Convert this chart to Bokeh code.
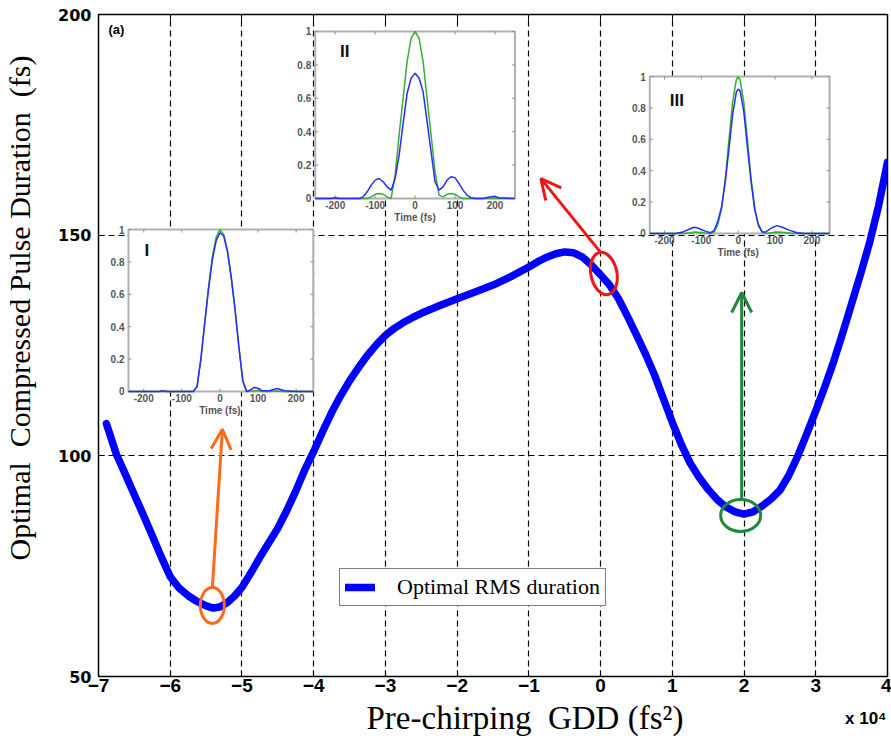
import math
from bokeh.plotting import figure
from bokeh.layouts import column
from bokeh.models import (Range1d, FixedTicker, LinearAxis, Legend, LegendItem,
                          Arrow, OpenHead, Label)
from bokeh.core.properties import value
from bokeh.embed import file_html
from bokeh.resources import INLINE

# ---------------- main curve (GDD in units of 1e4 fs^2, duration in fs) -------------
gdd = [-6.89, -6.75, -6.625, -6.5, -6.375, -6.25, -6.125, -6.0, -5.875, -5.75, -5.625,
       -5.5, -5.4, -5.3, -5.2, -5.1, -5.0, -4.875, -4.75, -4.625, -4.5, -4.375, -4.25,
       -4.125, -4.0, -3.875, -3.75, -3.625, -3.5, -3.375, -3.25, -3.125, -3.0, -2.875,
       -2.75, -2.625, -2.5, -2.25, -2.0, -1.75, -1.5, -1.25, -1.0, -0.875, -0.75, -0.625,
       -0.5, -0.375, -0.25, -0.125, 0.0, 0.125, 0.25, 0.375, 0.5, 0.625, 0.75, 0.875, 1.0,
       1.125, 1.25, 1.375, 1.5, 1.625, 1.75, 1.875, 2.0, 2.125, 2.25, 2.375, 2.5, 2.625,
       2.75, 2.875, 3.0, 3.125, 3.25, 3.375, 3.5, 3.625, 3.75, 3.875, 4.0]
duration = [107.3, 100.3, 95.8, 91.2, 86.6, 81.9, 77.1, 72.6, 70.0, 68.3, 67.0,
            66.0, 65.5, 65.8, 66.8, 68.3, 70.2, 73.5, 77.0, 80.3, 83.6, 87.6, 92.0,
            96.8, 101.0, 105.5, 109.8, 113.6, 117.0, 120.0, 122.8, 125.2, 127.3, 128.9,
            130.2, 131.3, 132.3, 134.0, 135.6, 137.1, 138.7, 140.6, 142.8, 144.0, 145.0, 145.8,
            146.2, 146.0, 145.0, 143.2, 141.0, 138.7, 135.6, 131.6, 127.4, 123.1, 118.4, 113.0,
            107.6, 102.6, 98.3, 95.1, 92.4, 90.1, 88.4, 87.3, 86.8, 87.3, 88.6, 90.2, 92.2, 95.6,
            100.0, 105.0, 110.2, 115.6, 121.4, 127.8, 134.5, 141.2, 148.3, 156.6, 166.5]

x_ticks = [-7, -6, -5, -4, -3, -2, -1, 0, 1, 2, 3, 4]
y_ticks = [50, 100, 150, 200]
legend_label = "Optimal RMS duration"
y_title = "Optimal \u00a0Compressed Pulse Duration \u00a0(fs)"
x_title = "Pre-chirping \u00a0GDD (fs\u00b2)"
x_multiplier = "x 10\u2074"

# ---------------- inset pulses (time in fs, normalised intensity) -------------------
t1 = [-240, -200, -160, -150, -140, -100, -70, -60, -50, -40, -30, -20, -10, 0, 10, 20, 30,
      40, 50, 60, 70, 80, 90, 100, 110, 130, 150, 170, 200, 245]
blue1 = [0, 0, 0, 0.004, 0, 0, 0, 0.03, 0.2, 0.42, 0.63, 0.81, 0.93, 0.98, 0.96, 0.86, 0.7,
         0.5, 0.27, 0.07, 0.0, 0.01, 0.025, 0.02, 0.005, 0.005, 0.018, 0.005, 0, 0]
green1 = [0, 0, 0, 0, 0, 0, 0, 0.03, 0.2, 0.42, 0.64, 0.83, 0.95, 1.0, 0.97, 0.87, 0.7,
          0.5, 0.27, 0.06, 0, 0.003, 0.005, 0.005, 0, 0, 0.003, 0, 0, 0]

t2 = [-250, -210, -200, -190, -170, -140, -130, -120, -110, -100, -90, -80, -70, -60, -50,
      -40, -30, -20, -10, 0, 10, 20, 30, 40, 50, 60, 70, 80, 90, 100, 110, 120, 130, 140,
      150, 170, 190, 200, 210, 250]
blue2 = [0, 0, 0.006, 0, 0, 0, 0.01, 0.04, 0.08, 0.11, 0.12, 0.1, 0.07, 0.05, 0.12,
         0.26, 0.45, 0.63, 0.72, 0.75, 0.72, 0.64, 0.46, 0.28, 0.1, 0.05, 0.07, 0.11, 0.13, 0.125,
         0.09, 0.05, 0.02, 0.005, 0, 0, 0.01, 0.012, 0.005, 0]
green2 = [0, 0, 0, 0, 0, 0, 0, 0, 0.01, 0.025, 0.03, 0.025, 0.01, 0.0, 0.14,
          0.38, 0.6, 0.82, 0.96, 1.0, 0.96, 0.82, 0.6, 0.38, 0.16, 0.02, 0.01, 0.025, 0.03, 0.025,
          0.01, 0, 0, 0, 0, 0, 0, 0, 0, 0]

t3 = [-240, -170, -150, -130, -120, -110, -90, -75, -65, -55, -45, -35, -25, -15, -5, 0, 5,
      15, 25, 35, 45, 55, 65, 75, 90, 105, 120, 140, 160, 180, 248]
blue3 = [0, 0, 0.01, 0.03, 0.04, 0.035, 0.015, 0.005, 0.02, 0.08, 0.17, 0.33, 0.54, 0.76,
         0.9, 0.92, 0.91, 0.78, 0.55, 0.33, 0.15, 0.05, 0.01, 0.01, 0.035, 0.05, 0.04, 0.02,
         0.005, 0, 0]
green3 = [0, 0, 0, 0.005, 0.01, 0.008, 0.003, 0, 0.01, 0.06, 0.16, 0.35, 0.6, 0.84, 0.98,
          1.0, 0.98, 0.84, 0.6, 0.35, 0.16, 0.06, 0.01, 0, 0.005, 0.01, 0.008, 0.003, 0, 0, 0]

inset_time_ticks = [-200, -100, 0, 100, 200]
inset_y_ticks = [0, 0.2, 0.4, 0.6, 0.8, 1.0]
inset_y_labels = ["0", "0.2", "0.4", "0.6", "0.8", "1"]
inset_names = ["I", "II", "III"]

# ---------------- annotations (main data coordinates) ----------------------------------
ellipse_x = [-5.413, 0.046, 1.953]
ellipse_y = [66.1, 141.3, 86.5]
ellipse_w = [24, 26, 40]
ellipse_h = [36, 43, 32]
ellipse_angle = [0.0, 0.2, 0.0]
marker_colors = ["#ff6a1a", "#f01414", "#21873b"]
arrow_x0 = [-5.413, 0.0, 1.967]
arrow_y0 = [70.0, 146.1, 90.3]
arrow_x1 = [-5.273, -0.832, 1.967]
arrow_y1 = [106.0, 162.8, 137.0]

# ---------------- layout ------------------------------------------------------------------
FRAME_W, FRAME_H = 790, 662
X0, X1, Y0, Y1 = -7, 4, 50, 200
PX_X = FRAME_W / (X1 - X0)
PX_Y = FRAME_H / (Y1 - Y0)

fig = figure(width=891, height=700, x_range=Range1d(X0, X1), y_range=Range1d(Y0, Y1),
             output_backend="svg", toolbar_location=None,
             min_border_left=97, min_border_right=4, min_border_top=14, min_border_bottom=24)
fig.background_fill_color = "white"
fig.border_fill_color = "white"
fig.outline_line_color = "black"
fig.outline_line_width = 1.5

xt = FixedTicker(ticks=x_ticks)
yt = FixedTicker(ticks=y_ticks)
fig.xaxis.ticker = xt
fig.yaxis.ticker = yt
for ax in (fig.xaxis[0], fig.yaxis[0]):
    ax.major_tick_in = 6
    ax.major_tick_out = 0
    ax.minor_tick_line_color = None
    ax.axis_line_color = "black"
    ax.major_tick_line_color = "black"
    ax.major_label_text_color = "black"
    ax.major_label_text_font_style = "bold"
fig.xaxis.major_label_text_font = "Liberation Sans"
fig.xaxis.major_label_text_font_size = "19px"
fig.xaxis.major_label_standoff = 2
fig.yaxis.major_label_text_font = "DejaVu Sans"
fig.yaxis.major_label_text_font_size = "16px"
fig.yaxis.major_label_standoff = 7
# y title: leading no-break spaces move it up as in the reference
fig.yaxis.axis_label = "\u00a0" * 10 + y_title
fig.yaxis.axis_label_text_font = "Liberation Serif"
fig.yaxis.axis_label_text_font_size = "30px"
fig.yaxis.axis_label_text_font_style = "normal"
fig.yaxis.axis_label_text_color = "black"
fig.yaxis.axis_label_standoff = 19

# tick-only axes on top and right (MATLAB box)
top_ax = LinearAxis(ticker=FixedTicker(ticks=x_ticks), major_tick_in=6, major_tick_out=0,
                    minor_tick_line_color=None, major_label_text_font_size="0px",
                    major_label_standoff=0, major_label_overrides={t: "" for t in x_ticks})
right_ax = LinearAxis(ticker=FixedTicker(ticks=y_ticks), major_tick_in=6, major_tick_out=0,
                      minor_tick_line_color=None, major_label_text_font_size="0px",
                      major_label_standoff=0, major_label_overrides={t: "" for t in y_ticks})
fig.add_layout(top_ax, "above")
fig.add_layout(right_ax, "right")

for g, tk in ((fig.xgrid[0], xt), (fig.ygrid[0], yt)):
    g.ticker = tk
    g.grid_line_color = "black"
    g.grid_line_dash = "6 4"
    g.grid_line_width = 1.2

main_line = fig.line(gdd, duration, line_color="#0000ff", line_width=7.5, line_join="round",
                     line_cap="round")

# ---------------- insets -----------------------------------------------------------
inset_boxes = [(-6.582, -4.006, 114.58, 151.28),
               (-3.978, -1.194, 158.31, 196.15),
               (0.686, 3.192, 150.38, 185.95)]
inset_trange = [(-240, 245), (-250, 250), (-240, 248)]
inset_name_pos = [(-198, 0.93), (-188, 0.94), (-186, 0.91)]
inset_data = [(t1, blue1, green1), (t2, blue2, green2), (t3, blue3, green3)]

lab_font = value("Liberation Sans")
gray = "#555555"
for (bx0, bx1, by0, by1), (tr0, tr1), name, (nx, ny), (tt, bb, gg) in zip(
        inset_boxes, inset_trange, inset_names, inset_name_pos, inset_data):
    sub = fig.subplot(x_source=Range1d(tr0, tr1), y_source=Range1d(0, 1),
                      x_target=Range1d(bx0, bx1), y_target=Range1d(by0, by1))
    sub.quad(left=[tr0], right=[tr1], bottom=[0], top=[1], fill_color="white",
             line_color="#b0b0b0", line_width=2)
    fs_px = (tr1 - tr0) / ((bx1 - bx0) * PX_X)
    u_px = 1.0 / ((by1 - by0) * PX_Y)
    tl = 3
    sub.segment(x0=[tr0] * 6 + [tr1] * 6, y0=inset_y_ticks * 2,
                x1=[tr0 + tl * fs_px] * 6 + [tr1 - tl * fs_px] * 6, y1=inset_y_ticks * 2,
                line_color="#909090", line_width=1)
    sub.segment(x0=inset_time_ticks * 2, y0=[0] * 5 + [1] * 5,
                x1=inset_time_ticks * 2, y1=[tl * u_px] * 5 + [1 - tl * u_px] * 5,
                line_color="#909090", line_width=1)
    sub.line(tt, gg, line_color="#33b033", line_width=1.5)
    sub.line(tt, bb, line_color="#2a2aff", line_width=1.5)
    sub.text(x=[tr0] * 6, y=inset_y_ticks, text=inset_y_labels, x_offset=-4,
             text_align="right", text_baseline="middle", text_font=lab_font,
             text_font_size="10px", text_font_style="bold", text_color=gray)
    sub.text(x=inset_time_ticks, y=[0] * 5, text=[str(v) for v in inset_time_ticks],
             y_offset=3, text_align="center", text_baseline="top", text_font=lab_font,
             text_font_size="10px", text_font_style="bold", text_color=gray)
    sub.text(x=[0], y=[0], text=["Time (fs)"], y_offset=14, text_align="center",
             text_baseline="top", text_font=lab_font, text_font_size="10px",
             text_font_style="bold", text_color=gray)
    sub.text(x=[nx], y=[ny], text=[name], text_align="left", text_baseline="top",
             text_font=lab_font, text_font_size="17px", text_font_style="bold",
             text_color="#111111")

# ---------------- markers & arrows ---------------------------------------------------
fig.ellipse(x=ellipse_x, y=ellipse_y, width=ellipse_w, height=ellipse_h, angle=ellipse_angle,
            width_units="screen", height_units="screen", fill_color=None,
            line_color=marker_colors, line_width=3)
for xa, ya, xb, yb, c in zip(arrow_x0, arrow_y0, arrow_x1, arrow_y1, marker_colors):
    fig.add_layout(Arrow(x_start=xa, y_start=ya, x_end=xb, y_end=yb, line_color=c,
                         line_width=3, end=OpenHead(size=20, line_color=c, line_width=3)))

# ---------------- legend -----------------------------------------------------------
legend = Legend(items=[LegendItem(label=legend_label, renderers=[main_line])],
                location=(241, 70), orientation="vertical",
                border_line_color="black", border_line_width=1,
                background_fill_color="white", background_fill_alpha=1.0,
                label_text_font="Liberation Serif", label_text_font_size="22px",
                label_text_color="black",
                glyph_width=30, glyph_height=20, label_height=20, label_standoff=22,
                padding=5, spacing=0, margin=0)
fig.add_layout(legend)

fig.add_layout(Label(x=-6.861, y=198.2, text="(a)", text_align="left", text_baseline="top",
                     text_font="Liberation Sans", text_font_size="13px",
                     text_font_style="bold", text_color="black"))

# ---------------- strip under the plot for the x title and multiplier -----------------
# its frame lines up with the main frame (canvas pixels 97..887)
STRIP_H = 40
strip = figure(width=891, height=STRIP_H, x_range=Range1d(97, 887),
               y_range=Range1d(0, STRIP_H), output_backend="svg", toolbar_location=None,
               x_axis_type=None, y_axis_type=None, min_border_left=97, min_border_right=4,
               min_border_top=0, min_border_bottom=0)
strip.outline_line_color = None
strip.xgrid.visible = False
strip.ygrid.visible = False
strip.background_fill_color = "white"
strip.border_fill_color = "white"
strip.add_layout(Label(x=524, y=STRIP_H - 17, text=x_title, text_align="center",
                       text_baseline="middle", text_font="Liberation Serif",
                       text_font_size="33px", text_color="black"))
strip.add_layout(Label(x=886, y=STRIP_H - 18, text=x_multiplier, text_align="right",
                       text_baseline="middle", text_font="Liberation Sans",
                       text_font_size="17px", text_font_style="bold", text_color="black"))

p = column(fig, strip, spacing=0)
open("out.html", "w").write(file_html(p, INLINE))
